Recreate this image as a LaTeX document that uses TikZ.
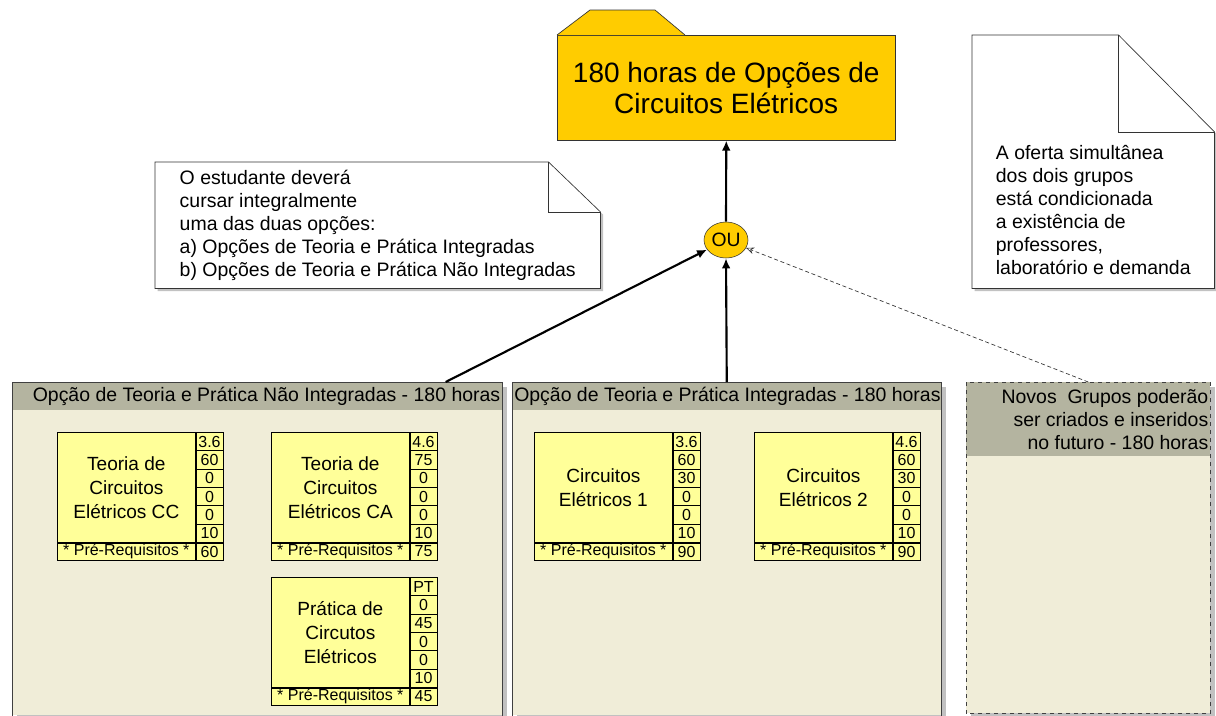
\documentclass[tikz,border=0pt]{standalone}
\usepackage{fontspec}
\setmainfont{Liberation Sans}
\usetikzlibrary{calc, positioning, shapes.geometric, shadows, arrows.meta}
\definecolor{ouro}{RGB}{255,204,0}
\definecolor{bege}{RGB}{240,237,216}
\definecolor{cinzacab}{RGB}{180,180,160}
\definecolor{amarelo}{RGB}{255,255,153}
\tikzset{
    pasta/.style = {draw=black!80, fill=ouro, rectangle, minimum width=253.5pt, minimum height=78.75pt,
      font=\fontsize{21}{23.5}\selectfont, align=center},
    ounode/.style = {draw=black!80, fill=ouro, ellipse, inner sep=0pt, minimum width=33pt,
      minimum height=27pt, font=\fontsize{14.5}{16}\selectfont},
    notanode/.style = {rectangle, inner sep=0pt},
    notatexto/.style = {align=left, inner sep=0pt, font=\fontsize{14.6}{17.25}\selectfont},
    notaborda/.style = {draw=black!80, fill=white, line width=0.5pt,
      drop shadow={shadow xshift=2pt, shadow yshift=-2pt, fill=black!40, opacity=0.6}},
    grupo/.style = {rectangle, fill=bege, inner sep=0pt,
      drop shadow={shadow xshift=3.5pt, shadow yshift=-3.5pt, fill=black!35, opacity=0.7}},
    grupoborda/.style = {draw=black!75, line width=0.6pt},
    grupocab/.style = {rectangle, fill=cinzacab, inner sep=0pt},
    cabtexto/.style = {inner sep=0pt, align=right, font=\fontsize{14.6}{17.25}\selectfont},
    discnome/.style = {draw, fill=amarelo, rectangle, inner sep=0pt, line width=0.5pt, minimum width=103.5pt,
      minimum height=82.5pt, align=center, font=\fontsize{14.3}{18}\selectfont},
    celula/.style = {draw, fill=amarelo, rectangle, inner sep=0pt, line width=0.5pt, minimum width=20.25pt,
      minimum height=13.75pt, font=\fontsize{12}{12}\selectfont},
    prereq/.style = {draw, fill=amarelo, rectangle, inner sep=0pt, line width=0.5pt, minimum width=103.5pt,
      minimum height=12.75pt, font=\fontsize{12}{12}\selectfont},
    seta/.style = {black, line width=1.6pt, -{Latex[length=7.5pt, width=6.5pt]}},
    setatrac/.style = {black!80, line width=0.5pt, dash pattern=on 3pt off 2pt, -{Stealth[length=6pt, width=5pt, open]}}
}
% caixa de disciplina: nome, posicao, titulo, cargas, pre-requisitos
\newcommand{\disciplina}[5]{%
    \node[discnome, anchor=north west] (#1) at #2 {#3};
    \foreach \v [count=\i] in {#4}
        \node[celula, anchor=north west, yshift={-(\i-1)*13.75pt}] (#1c\i) at (#1.north east) {\v};
    \node[prereq, anchor=north west] (#1pr) at (#1.south west) {* Pré-Requisitos *};
    \node[celula, minimum height=12.75pt, anchor=north west] (#1pv) at (#1pr.north east) {#5};
}

\begin{document}
\begin{tikzpicture}[x=0.75pt, y=-0.75pt]
    \useasboundingbox (0,0) rectangle (1216,715);

    % pasta do topo
    \node[pasta, anchor=north west] (pasta) at (557,35) {180 horas de Opções de\\Circuitos Elétricos};
    \draw[draw=black!80, fill=ouro, line width=0.5pt] (pasta.north west) -- ++(33,-25) -- ++(65,0)
        -- ([xshift=96pt]pasta.north west);

    \node[ounode] (ou) at (726,240) {OU};

    % notas
    \node[notanode, minimum width=333.75pt, minimum height=94.5pt, anchor=north west] (nota1) at (155,162) {};
    \draw[notaborda] (nota1.south west) -- (nota1.north west) -- ([xshift=-39pt]nota1.north east)
        -- ([yshift=-37.5pt]nota1.north east) -- (nota1.south east) -- cycle;
    \draw[draw=black!80, line width=0.5pt] ([xshift=-39pt]nota1.north east) |- ([yshift=-37.5pt]nota1.north east);
    \node[notatexto] (nota1txt) at (nota1.center) {O estudante deverá\\cursar integralmente\\uma das duas opções:\\
        a) Opções de Teoria e Prática Integradas\\b) Opções de Teoria e Prática Não Integradas};

    \node[notanode, minimum width=181.5pt, minimum height=189.75pt, anchor=north west] (nota2) at (972,35) {};
    \draw[notaborda] (nota2.south west) -- (nota2.north west) -- ([xshift=-72pt]nota2.north east)
        -- ([yshift=-72.75pt]nota2.north east) -- (nota2.south east) -- cycle;
    \draw[draw=black!80, line width=0.5pt] ([xshift=-72pt]nota2.north east) |- ([yshift=-72.75pt]nota2.north east);
    \node[notatexto, yshift=-36pt] (nota2txt) at (nota2.center) {A oferta simultânea\\dos dois grupos\\
        está condicionada\\a existência de\\professores,\\laboratório e demanda};

    % grupos
    \node[grupo, minimum width=367.5pt, minimum height=249.75pt, anchor=north west] (g1) at (12,382) {};
    \node[grupocab, minimum width=367.5pt, minimum height=21pt, anchor=north west] (g1cab) at (g1.north west) {};
    \node[cabtexto, anchor=east, xshift=-1.5pt] (g1titulo) at (g1cab.east)
        {Opção de Teoria e Prática Não Integradas - 180 horas};
    \draw[grupoborda] (g1.south west) |- (g1.north east) -- (g1.south east);

    \node[grupo, minimum width=321.75pt, minimum height=249.75pt, anchor=north west] (g2) at (512,382) {};
    \node[grupocab, minimum width=321.75pt, minimum height=21pt, anchor=north west] (g2cab) at (g2.north west) {};
    \node[cabtexto, anchor=east, xshift=-0.5pt] (g2titulo) at (g2cab.east)
        {Opção de Teoria e Prática Integradas - 180 horas};
    \draw[grupoborda] (g2.south west) |- (g2.north east) -- (g2.south east);

    \node[grupo, minimum width=183pt, minimum height=248.25pt, anchor=north west] (g3) at (966,382) {};
    \node[grupocab, minimum width=183pt, minimum height=55.5pt, anchor=north west] (g3cab) at (g3.north west) {};
    \node[cabtexto, anchor=east, xshift=-1.5pt] (g3titulo) at (g3cab.east)
        {Novos\ \ Grupos poderão\\ser criados e inseridos\\no futuro - 180 horas};
    \draw[grupoborda, dashed] (g3.south west) rectangle (g3.north east);

    % disciplinas
    \disciplina{cc}{(57,432)}{Teoria de\\Circuitos\\Elétricos CC}{3.6,60,0,0,0,10}{60}
    \disciplina{ca}{(271,432)}{Teoria de\\Circuitos\\Elétricos CA}{4.6,75,0,0,0,10}{75}
    \disciplina{pr}{(271,577)}{Prática de\\Circutos\\Elétricos}{PT,0,45,0,0,10}{45}
    \disciplina{ce1}{(534,432)}{Circuitos\\Elétricos 1}{3.6,60,30,0,0,10}{90}
    \disciplina{ce2}{(754,432)}{Circuitos\\Elétricos 2}{4.6,60,30,0,0,10}{90}

    % ligacoes
    \coordinate (g1saida) at ($(g1.north west)!0.884!(g1.north east)$);
    \draw[seta] (g1saida) -- (ou);
    \draw[seta] (g2.north) -- (ou.south);
    \draw[setatrac] (g3.north) -- (ou);
    \draw[seta] (ou.north) -- (pasta.south);
\end{tikzpicture}
\end{document}
